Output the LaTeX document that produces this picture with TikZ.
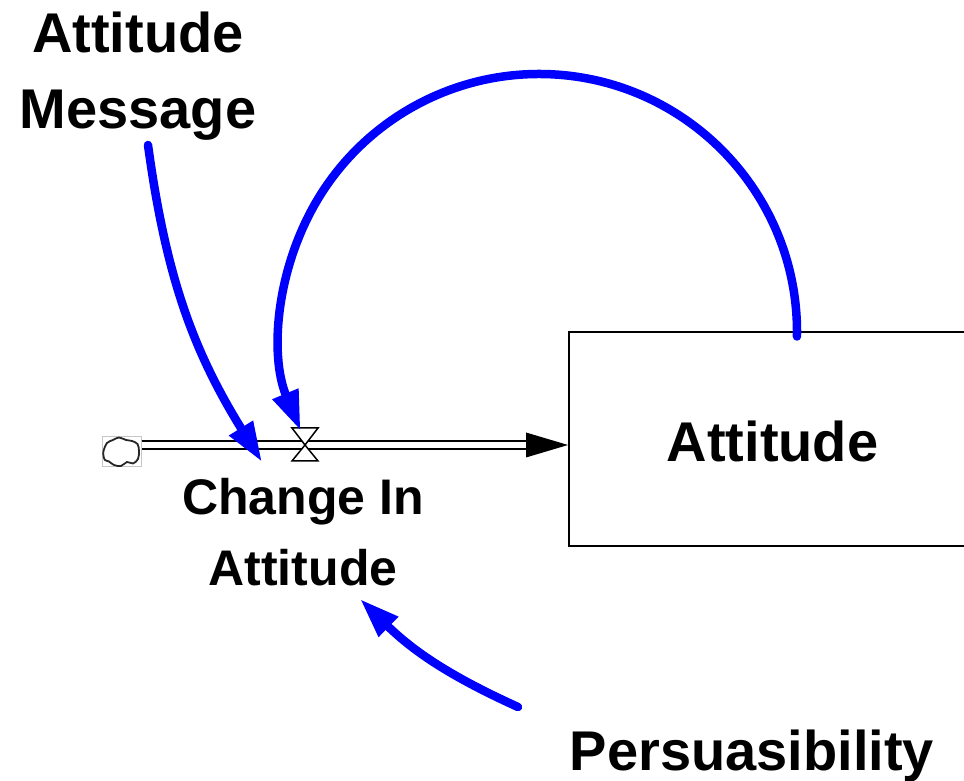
\documentclass[tikz,border=0pt]{standalone}
\usepackage{fontspec}
\setmainfont{Liberation Sans}
\usetikzlibrary{arrows.meta,calc}
\definecolor{inflblue}{RGB}{0,0,255}
\begin{document}
\begin{tikzpicture}[x=1pt,y=1pt,
  lbl/.style={font=\bfseries\fontsize{56}{76}\selectfont, inner sep=0pt, align=center},
  lblsmall/.style={font=\bfseries\fontsize{50}{71}\selectfont, inner sep=0pt, align=center},
  stockbox/.style={draw=black, line width=2pt, minimum width=407pt, minimum height=214pt, inner sep=0pt,
    text height=46pt, font=\bfseries\fontsize{56}{76}\selectfont},
  pipe/.style={draw=black, line width=2.2pt, double=white, double distance=5.6pt},
  infl/.style={draw=inflblue, line width=8.5pt, line cap=round, -{Triangle[length=40pt,width=26pt]}},
  cloudbox/.style={draw=gray!45, line width=1pt, minimum width=39pt, minimum height=30pt, inner sep=0pt},
  valveshape/.style={draw=black, line width=1.5pt, fill=white, line join=miter},
]
\useasboundingbox (0,0) rectangle (964,781);
\fill[white] (0,0) rectangle (964,781);
\clip (0,0) rectangle (964,781);

% stock
\node[stockbox] (stock) at (772.5,342) {Attitude};

% labels
\node[lbl, anchor=north] (msg) at (138,769.5) {Attitude\\Message};
\node[lblsmall, anchor=north] (chg) at (303,303) {Change In\\Attitude};
\node[lbl, anchor=base] (pers) at (752,10) {Persuasibility};

% cloud source
\node[cloudbox] (cloud) at (121.5,329) {};
\draw[gray!30!black, line width=1.8pt] plot[smooth cycle, tension=0.55] coordinates {
  (103.5,330) (107,338) (113,341) (119,343.5) (126,341) (132,340) (137.5,337) (139,330)
  (138,322) (133,317.5) (127,319) (121,315) (114,316) (109,319.5) (105,321) (103.5,325)};

% flow pipe
\coordinate (valve) at (305,336);
\coordinate (pipeend) at ($(stock.west |- valve)+(-42,0)$);
\draw[pipe] (cloud.east |- valve) -- (pipeend);
\fill[black] ($(pipeend)+(0,12.5)$) -- (stock.west |- valve) -- ($(pipeend)+(0,-12.5)$) -- cycle;

% valve
\draw[valveshape] ($(valve)+(-13,17)$) -- ($(valve)+(13,17)$) -- (valve) -- cycle;
\draw[valveshape] ($(valve)+(-13,-16)$) -- ($(valve)+(13,-16)$) -- (valve) -- cycle;

% influences
\coordinate (msgout) at (148,636);
\coordinate (chgtop) at (262,319);
\draw[infl] (msgout) to[bend right=12] (chgtop);

\coordinate (persout) at (518,74);
\coordinate (chgbottom) at (360,182);
\draw[infl] (persout) to[bend left=10] (chgbottom);

\coordinate (arcstart) at (796.96,444.5);
\draw[infl] (arcstart) arc[start angle=-1, end angle=202.5, radius=258pt];
\end{tikzpicture}
\end{document}
